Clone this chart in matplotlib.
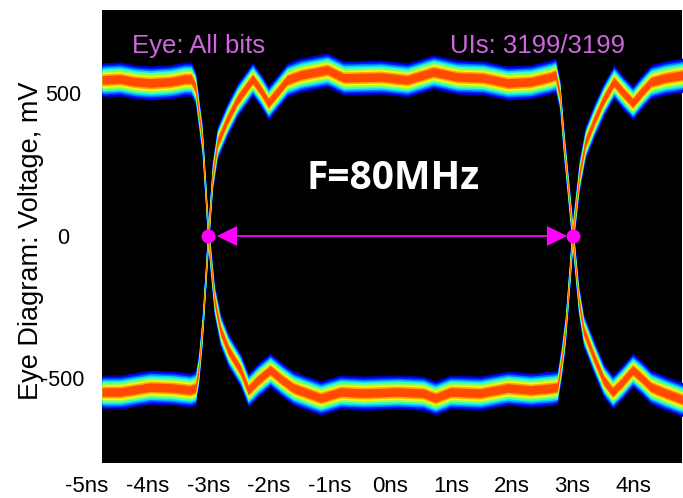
import matplotlib.pyplot as plt
import matplotlib.transforms as mtransforms
import numpy as np

# trace that starts high, falls at the left crossing, rises at the right one
t_a = [-4.75, -4.45, -4.20, -3.96, -3.63, -3.38, -3.28, -3.21, -3.10, -3.00, -2.90, -2.80,
       -2.67, -2.47, -2.34, -2.18, -1.98, -1.78, -1.60, -1.15, -0.82, -0.45, 0.12, 0.54,
       0.74, 0.99, 1.48, 1.93, 2.31, 2.67, 2.75, 2.82, 2.88, 3.00, 3.11, 3.21, 3.36, 3.51,
       3.68, 3.82, 3.99, 4.14, 4.29, 4.53, 4.83]
v_a = [546, 549, 539, 535, 539, 549, 549, 518, 335, 0, -226, -332,
       -402, -472, -542, -507, -472, -507, -535, -570, -549, -553, -549, -553,
       -570, -549, -553, -535, -542, -535, -532, -437, -332, 0, 210, 325, 405, 476,
       539, 504, 465, 504, 539, 553, 563]

# trace that starts low, rises at the left crossing, falls at the right one
t_b = [-4.75, -4.45, -3.96, -3.58, -3.30, -3.21, -3.16, -3.10, -3.00, -2.93, -2.85, -2.69,
       -2.52, -2.27, -2.14, -2.01, -1.86, -1.70, -1.48, -1.04, -0.77, -0.16, 0.28, 0.71,
       1.10, 1.53, 1.93, 2.31, 2.64, 2.72, 2.79, 2.85, 3.00, 3.10, 3.18, 3.35, 3.51, 3.66,
       3.82, 3.99, 4.14, 4.29, 4.53, 4.83]
v_b = [-549, -549, -532, -535, -542, -535, -472, -332, 0, 210, 325, 405,
       476, 549, 511, 465, 504, 546, 563, 581, 553, 556, 546, 574,
       556, 553, 535, 539, 556, 563, 493, 335, 0, -226, -332, -426, -507, -549,
       -514, -472, -500, -532, -553, -577]

xtick_pos = [-5, -4, -3, -2, -1, 0, 1, 2, 3, 4]
xtick_lab = ['-5ns', '-4ns', '-3ns', '-2ns', '-1ns', '0ns', '1ns', '2ns', '3ns', '4ns']
ytick_pos = [-500, 0, 500]
ytick_lab = ['-500', '0', '500']

cross_t = [-3.0, 3.0]
arrow_t = [-2.69, 2.75]

magenta = '#ff00ff'
textmag = '#cf66df'

fig = plt.figure(figsize=(6.83, 4.98), dpi=100)
ax = fig.add_axes([0.1493, 0.0703, 0.849, 0.9096])
ax.set_facecolor('black')
for s in ax.spines.values():
    s.set_visible(False)

# density-like bands: outer dark blue to inner red-orange
fracs = np.linspace(0.05, 0.83, 9)
halfw = np.linspace(60, 15, 9)
ta, va = np.array(t_a), np.array(v_a)
tb, vb = np.array(t_b), np.array(v_b)
for f, w in zip(fracs, halfw):
    c = plt.cm.jet(f)
    ax.fill_between(ta, va - w, va + w, color=c, lw=0)
    ax.fill_between(tb, vb - w, vb + w, color=c, lw=0)

# measurement markers
ax.plot(arrow_t, [0, 0], color=magenta, lw=1.3)
ax.plot(arrow_t[0], 0, marker='<', color=magenta, ms=14, mew=0)
ax.plot(arrow_t[1], 0, marker='>', color=magenta, ms=14, mew=0)
ax.plot(cross_t, [0, 0], 'o', color=magenta, ms=10, mew=0)

ax.text(-4.25, 640, 'Eye: All bits', color=textmag, fontsize=18.5, family='Liberation Sans', va='baseline')
ax.text(3.87, 640, 'UIs: 3199/3199', color=textmag, fontsize=18.5, family='Liberation Sans', va='baseline', ha='right')
ax.text(0.05, 200, 'F=80MHz', color='white', fontsize=28, family='Open Sans', fontweight='bold', ha='center', va='center')

ax.set_xlim(-4.75, 4.80)
ax.set_ylim(-798, 791)

ax.set_xticks([])
trans = mtransforms.blended_transform_factory(ax.transData, ax.transAxes)
for p, lab in zip(xtick_pos, xtick_lab):
    ax.text(p, -0.053, lab, transform=trans, ha='center', va='center', fontsize=16,
            family='Liberation Sans', clip_on=False)

ax.set_yticks(ytick_pos)
ax.set_yticklabels(ytick_lab, fontsize=15.5, family='Liberation Sans')
for lab in ax.get_yticklabels():
    lab.set_horizontalalignment('center')
ax.tick_params(axis='y', length=0, pad=28)
ax.set_ylabel('Eye Diagram: Voltage, mV', fontsize=19.5, family='Liberation Sans')
ax.yaxis.set_label_coords(-0.10, 0.49)

fig.savefig('out.png', dpi=100, facecolor='white')
